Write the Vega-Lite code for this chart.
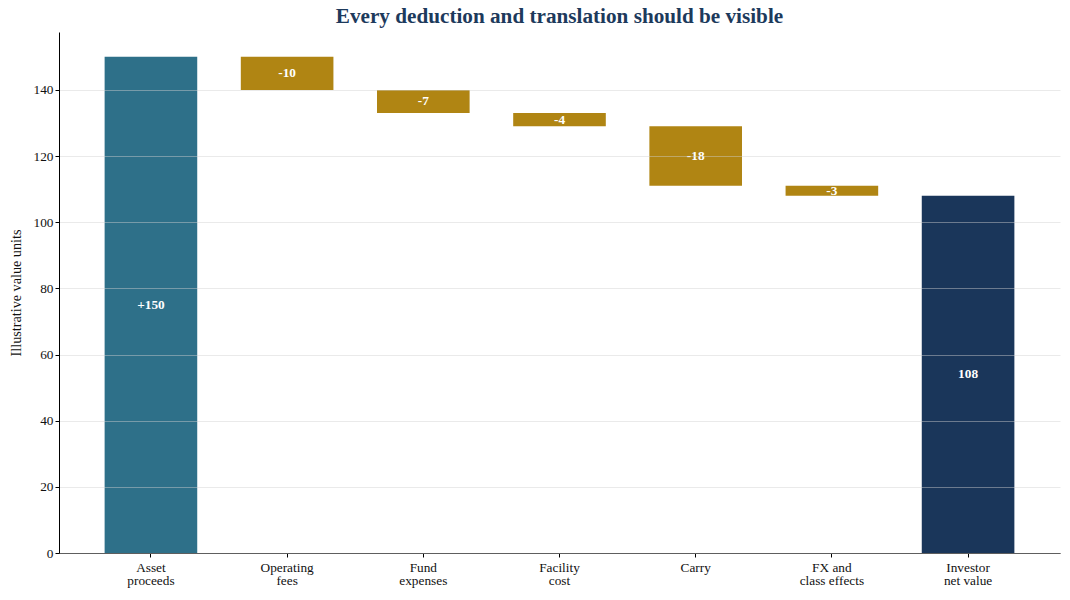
{
  "$schema": "https://vega.github.io/schema/vega-lite/v6.json",
  "width": 1001,
  "height": 521,
  "autosize": {"type": "none"},
  "padding": {"left": 59, "top": 32, "right": 10, "bottom": 47},
  "background": "white",
  "config": {
    "font": "Liberation Serif",
    "view": {"stroke": null}
  },
  "title": {
    "text": "Every deduction and translation should be visible",
    "font": "Liberation Serif",
    "fontSize": 21.2,
    "fontWeight": "bold",
    "color": "#1d3a5c",
    "anchor": "middle",
    "offset": 5
  },
  "data": {
    "values": [
      {"cat": "Asset\nproceeds", "start": 0, "end": 150, "kind": "total_in", "label": "+150"},
      {"cat": "Operating\nfees", "start": 150, "end": 140, "kind": "deduction", "label": "-10"},
      {"cat": "Fund\nexpenses", "start": 140, "end": 133, "kind": "deduction", "label": "-7"},
      {"cat": "Facility\ncost", "start": 133, "end": 129, "kind": "deduction", "label": "-4"},
      {"cat": "Carry", "start": 129, "end": 111, "kind": "deduction", "label": "-18"},
      {"cat": "FX and\nclass effects", "start": 111, "end": 108, "kind": "deduction", "label": "-3"},
      {"cat": "Investor\nnet value", "start": 0, "end": 108, "kind": "total_out", "label": "108"}
    ]
  },
  "transform": [{"calculate": "(datum.start + datum.end) / 2", "as": "mid"}],
  "encoding": {
    "x": {
      "field": "cat",
      "type": "nominal",
      "sort": null,
      "scale": {"paddingInner": 0.32, "paddingOuter": 0.335},
      "axis": {
        "title": null,
        "labelAngle": 0,
        "labelExpr": "split(datum.label, '\\n')",
        "labelFont": "Liberation Serif",
        "labelFontSize": 13.3,
        "labelColor": "#111111",
        "labelLineHeight": 13.5,
        "labelPadding": 3,
        "domainColor": "#000000",
        "domainWidth": 1,
        "tickColor": "#000000",
        "tickSize": 4,
        "grid": false
      }
    }
  },
  "layer": [
    {
      "mark": {"type": "bar"},
      "encoding": {
        "y": {
          "field": "start",
          "type": "quantitative",
          "scale": {"domain": [0, 157.5], "nice": false},
          "axis": {
            "title": "Illustrative value units",
            "titleFont": "Liberation Serif",
            "titleFontSize": 14.2,
            "titleFontWeight": "normal",
            "titleColor": "#111111",
            "titlePadding": 10,
            "values": [0, 20, 40, 60, 80, 100, 120, 140],
            "labelFont": "Liberation Serif",
            "labelFontSize": 13.3,
            "labelColor": "#111111",
            "domainColor": "#000000",
            "tickColor": "#000000",
            "tickSize": 4,
            "grid": true,
            "gridColor": "#d0d0d0",
            "gridOpacity": 0.45,
            "zindex": 1
          }
        },
        "y2": {"field": "end"},
        "color": {
          "field": "kind",
          "type": "nominal",
          "scale": {
            "domain": ["total_in", "deduction", "total_out"],
            "range": ["#2e7089", "#b08513", "#1a365a"]
          },
          "legend": null
        }
      }
    },
    {
      "mark": {
        "type": "text",
        "color": "white",
        "fontWeight": "bold",
        "fontSize": 13.3,
        "font": "Liberation Serif",
        "baseline": "middle",
        "align": "center"
      },
      "encoding": {
        "y": {"field": "mid", "type": "quantitative"},
        "text": {"field": "label", "type": "nominal"}
      }
    }
  ]
}
